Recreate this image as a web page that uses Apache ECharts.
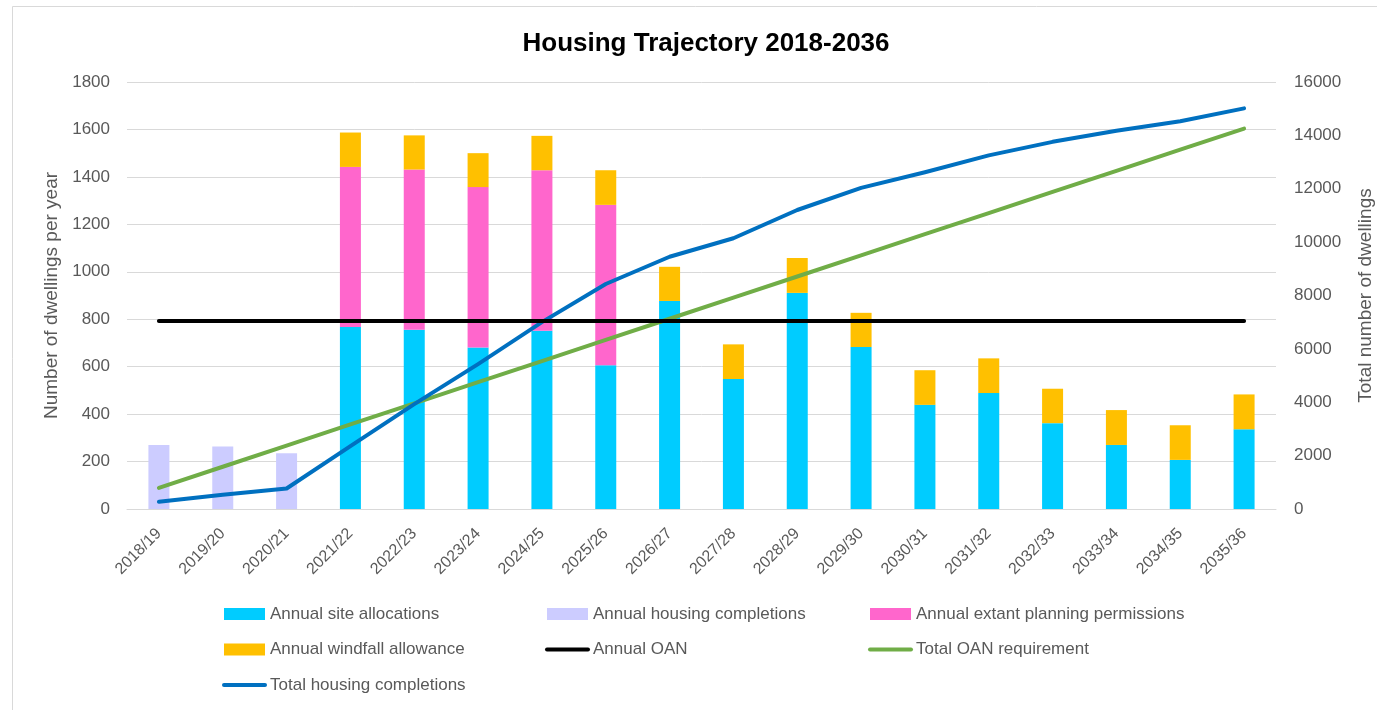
<!DOCTYPE html>
<html>
<head>
<meta charset="utf-8">
<title>Housing Trajectory 2018-2036</title>
<script src="https://cdn.jsdelivr.net/npm/echarts@6/dist/echarts.min.js"></script>
<style>
  html, body { margin: 0; padding: 0; background: #ffffff; }
  #chart { width: 1377px; height: 710px; }
</style>
</head>
<body>
<div id="chart"></div>
<script>
// Monitoring years
const years = ['2018/19','2019/20','2020/21','2021/22','2022/23','2023/24','2024/25','2025/26','2026/27',
  '2027/28','2028/29','2029/30','2030/31','2031/32','2032/33','2033/34','2034/35','2035/36'];

// Annual supply components (dwellings per year)
const siteAllocations   = [null, null, null, 767, 756, 681, 751, 606, 877, 548, 911, 683, 439, 489, 362, 270, 207, 336];
const housingCompletions = [270, 263, 235, null, null, null, null, null, null, null, null, null, null, null, null, null, null, null];
const extantPermissions = [null, null, null, 675, 675, 676, 677, 676, null, null, null, null, null, null, null, null, null, null];
const windfallAllowance = [null, null, null, 145, 144, 143, 145, 146, 144, 146, 147, 144, 146, 146, 145, 147, 146, 147];

// Annual objectively assessed need
const annualOAN = [792, 792, 792, 792, 792, 792, 792, 792, 792, 792, 792, 792, 792, 792, 792, 792, 792, 792];

// Cumulative totals (right axis)
const totalOANRequirement = [792, 1584, 2376, 3168, 3960, 4752, 5544, 6336, 7128, 7920, 8712, 9504, 10296, 11088, 11880, 12672, 13464, 14256];
const totalHousingCompletions = [270, 533, 768, 2355, 3930, 5430, 7003, 8431, 9452, 10146, 11204, 12031, 12616, 13251, 13758, 14175, 14528, 15011];

// Axis ticks
const leftAxisMax = 1800, leftAxisStep = 200;
const rightAxisMax = 16000, rightAxisStep = 2000;

const FONT = '"Liberation Sans", Arial, sans-serif';
const GREY_TEXT = '#595959';

const chart = echarts.init(document.getElementById('chart'), null, { renderer: 'canvas' });

const barCommon = { type: 'bar', stack: 'supply', barWidth: 21, yAxisIndex: 0 };

// Legend entries: plain rectangles for bars, thick rounded strokes for lines
function barEntry(name) { return { name: name, icon: 'rect' }; }
function lineEntry(name, color) {
  return { name: name, itemStyle: { opacity: 0 }, lineStyle: { color: color, width: 4, cap: 'round', opacity: 1 } };
}

const legendText = { color: GREY_TEXT, fontFamily: FONT, fontSize: 17, lineHeight: 18 };
function legendColumn(left, entries) {
  return {
    orient: 'vertical', left: left, top: 605, padding: 0,
    itemWidth: 41, itemHeight: 12, itemGap: 17.5,
    textStyle: legendText, data: entries, selectedMode: false
  };
}

const plainNumber = v => String(v);

chart.setOption({
  animation: false,
  backgroundColor: '#ffffff',
  title: {
    text: 'Housing Trajectory 2018-2036',
    left: 701, top: 26, textAlign: 'center',
    textStyle: { fontFamily: FONT, fontSize: 26, fontWeight: 'bold', color: '#000000' }
  },
  graphic: [{
    type: 'rect', left: 10, top: 4, silent: true,
    shape: { width: 1380, height: 720 },
    style: { fill: 'none', stroke: '#d9d9d9', lineWidth: 1 }
  }],
  grid: { left: 127, right: 101, top: 82, bottom: 201, containLabel: false, outerBoundsMode: 'none' },
  legend: [
    legendColumn(222, [barEntry('Annual site allocations'), barEntry('Annual windfall allowance'),
      lineEntry('Total housing completions', '#0070C0')]),
    legendColumn(545, [barEntry('Annual housing completions'), lineEntry('Annual OAN', '#000000')]),
    legendColumn(868, [barEntry('Annual extant planning permissions'), lineEntry('Total OAN requirement', '#70AD47')])
  ],
  xAxis: {
    type: 'category', data: years,
    axisLine: { lineStyle: { color: '#d9d9d9', width: 1 } },
    axisTick: { show: false },
    axisLabel: { rotate: 45, interval: 0, margin: 22, color: GREY_TEXT, fontFamily: FONT, fontSize: 16 }
  },
  yAxis: [{
    type: 'value', min: 0, max: leftAxisMax, interval: leftAxisStep,
    name: 'Number of dwellings per year', nameLocation: 'middle', nameGap: 49, nameRotate: 90,
    nameTextStyle: { color: GREY_TEXT, fontFamily: FONT, fontSize: 19 },
    axisLine: { show: false }, axisTick: { show: false },
    axisLabel: { margin: 17, color: GREY_TEXT, fontFamily: FONT, fontSize: 17, formatter: plainNumber },
    splitLine: { lineStyle: { color: '#d9d9d9', width: 1 } }
  }, {
    type: 'value', min: 0, max: rightAxisMax, interval: rightAxisStep,
    name: 'Total number of dwellings', nameLocation: 'middle', nameGap: 80, nameRotate: 90,
    nameTextStyle: { color: GREY_TEXT, fontFamily: FONT, fontSize: 19 },
    axisLine: { show: false }, axisTick: { show: false },
    axisLabel: { margin: 18, color: GREY_TEXT, fontFamily: FONT, fontSize: 17, formatter: plainNumber },
    splitLine: { show: false }
  }],
  series: [
    Object.assign({ name: 'Annual site allocations', data: siteAllocations, itemStyle: { color: '#00CCFF' } }, barCommon),
    Object.assign({ name: 'Annual housing completions', data: housingCompletions, itemStyle: { color: '#CCCCFF' } }, barCommon),
    Object.assign({ name: 'Annual extant planning permissions', data: extantPermissions, itemStyle: { color: '#FF66CC' } }, barCommon),
    Object.assign({ name: 'Annual windfall allowance', data: windfallAllowance, itemStyle: { color: '#FFC000' } }, barCommon),
    {
      name: 'Total OAN requirement', type: 'line', yAxisIndex: 1, data: totalOANRequirement,
      symbol: 'none', lineStyle: { color: '#70AD47', width: 4, cap: 'round' }, itemStyle: { color: '#70AD47' }, z: 3
    },
    {
      name: 'Total housing completions', type: 'line', yAxisIndex: 1, data: totalHousingCompletions,
      symbol: 'none', lineStyle: { color: '#0070C0', width: 4, cap: 'round', join: 'round' }, itemStyle: { color: '#0070C0' }, z: 4
    },
    {
      name: 'Annual OAN', type: 'line', yAxisIndex: 0, data: annualOAN,
      symbol: 'none', lineStyle: { color: '#000000', width: 4, cap: 'round' }, itemStyle: { color: '#000000' }, z: 5
    }
  ]
});
</script>
</body>
</html>
